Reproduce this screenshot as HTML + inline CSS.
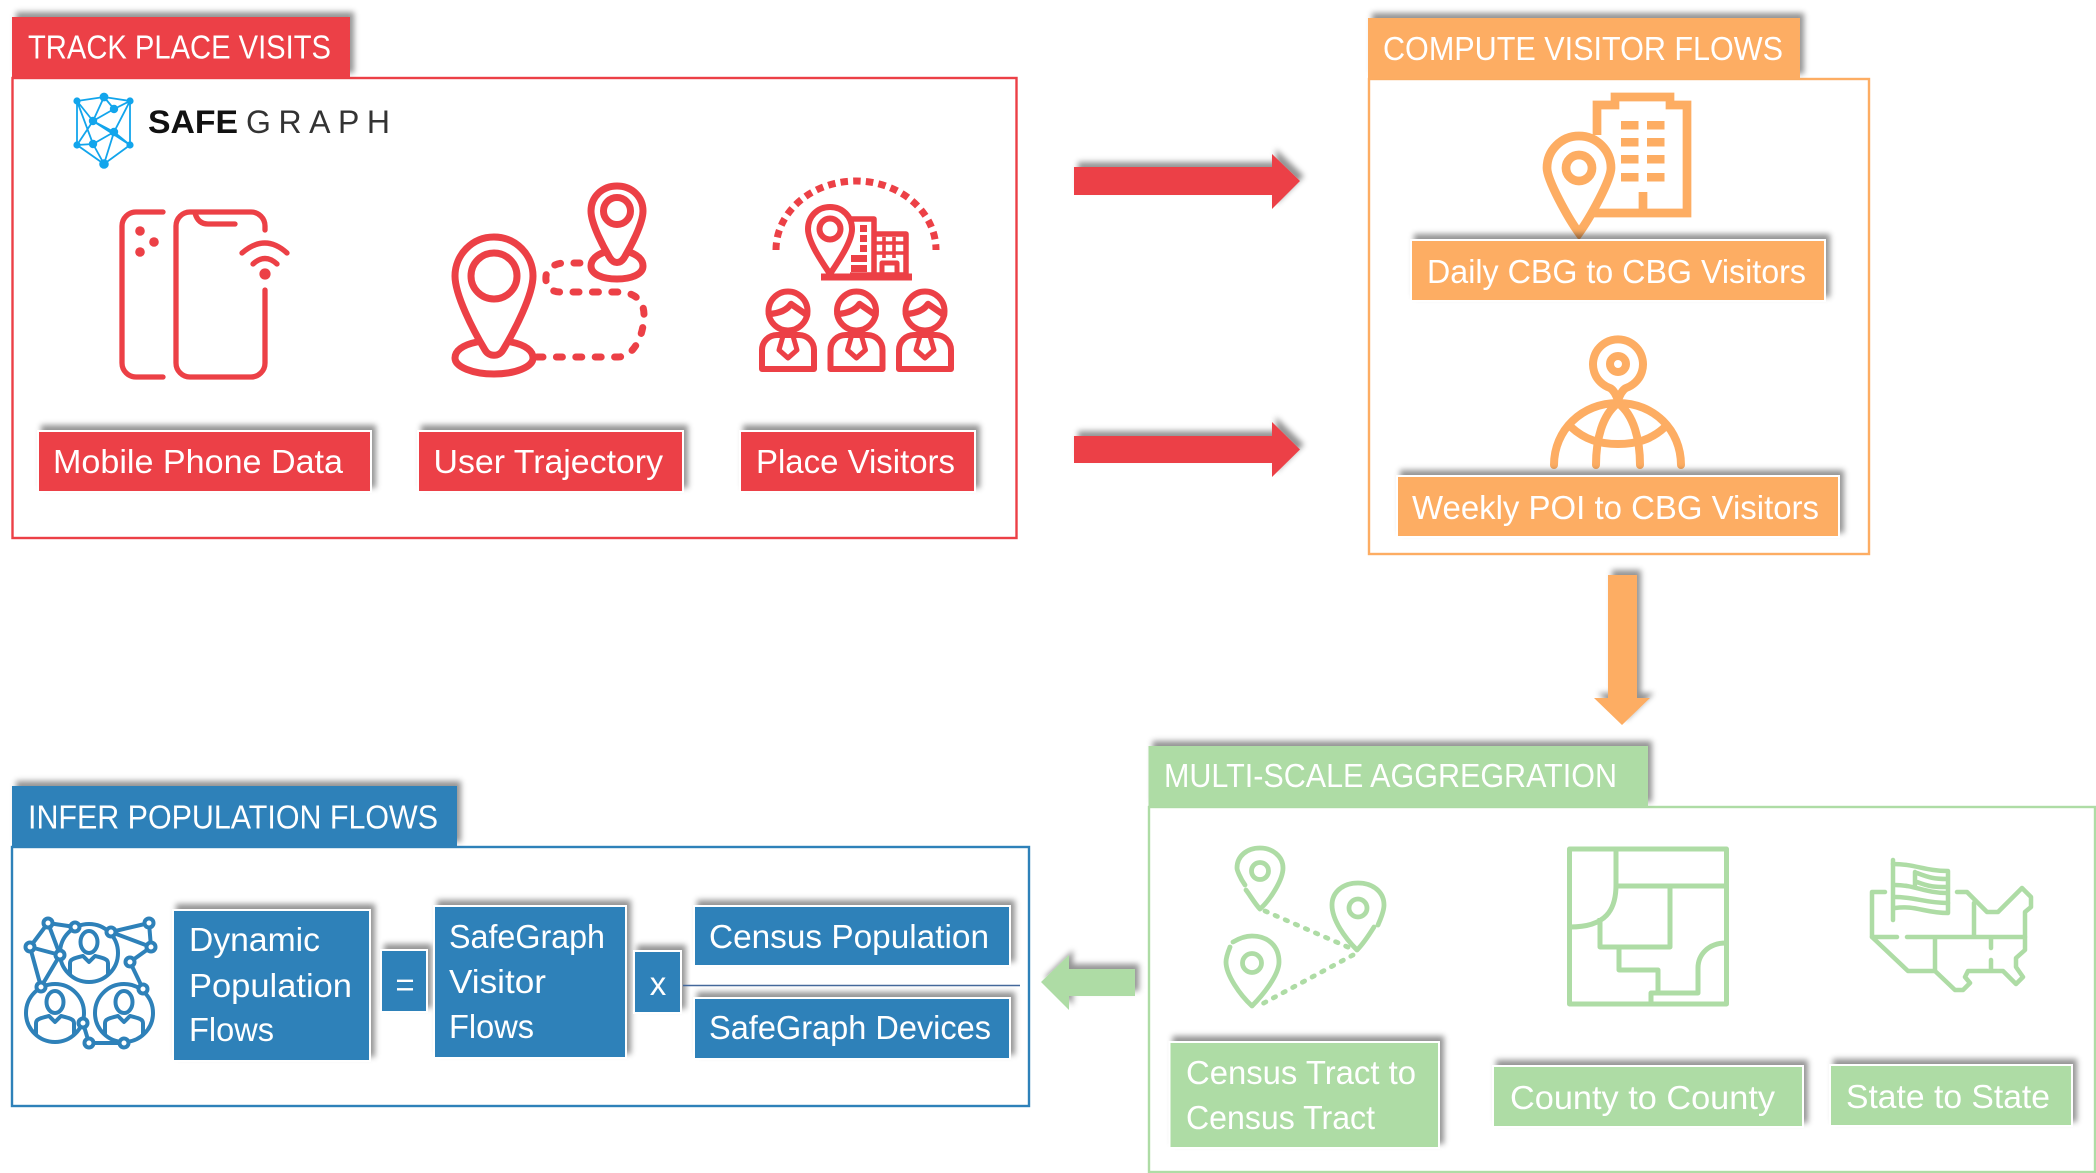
<!DOCTYPE html>
<html><head><meta charset="utf-8"><title>Population flows pipeline</title>
<style>
html,body{margin:0;padding:0;background:#fff;width:2096px;height:1173px;overflow:hidden}
svg{display:block}
text{font-family:"Liberation Sans",sans-serif;fill:#fff;font-size:33px}
.r{fill:#ec4046}.o{fill:#fdad63}.g{fill:#aedca5}.b{fill:#2e81b9}
.lab{stroke:#fff;stroke-width:2;filter:url(#sh)}
.tab{filter:url(#sh)}
.i{fill:none;stroke-linejoin:round;stroke-linecap:round}
</style></head><body>
<svg xmlns="http://www.w3.org/2000/svg" width="2096" height="1173" viewBox="0 0 2096 1173">
<defs>
<filter id="sh" x="-20%" y="-40%" width="140%" height="180%"><feDropShadow dx="4" dy="-5" stdDeviation="2.8" flood-color="#000" flood-opacity=".42"/></filter>
<g id="person" class="i" stroke="#ec4046" stroke-width="6">
<ellipse cx="0" cy="311" rx="19.5" ry="19.5"/>
<path stroke-width="6.500" d="M-19 314Q-3 313 3 304L19 315"/>
<path d="M-26 369V350a15 15 0 0 1 15-15H11a15 15 0 0 1 15 15V369Z"/>
<path stroke-width="5" d="M-5 336L-9 350L0 358L9 350L5 336"/>
</g>
<g id="net" class="i" stroke="#2e81b9" stroke-width="4">
<circle r="29"/>
<ellipse cx="0" cy="-11" rx="8.5" ry="11"/>
<path d="M-19 21V10C-19 6-14 5-6 3L0 9L6 3C14 5 19 6 19 10V21"/>
</g>
</defs>

<!-- TRACK PLACE VISITS -->
<rect x="12.500" y="78" width="1004" height="460" fill="none" stroke="#ec4046" stroke-width="2.4"/>
<rect class="r tab" x="12" y="17" width="338" height="61"/>
<text x="28" y="58.500" textLength="303" lengthAdjust="spacingAndGlyphs">TRACK PLACE VISITS</text>

<!-- logo -->
<g stroke="#12a5ec" stroke-width="1.8" fill="none">
<path d="M77 101L104 97L130 101L130 145L104 164L77 145ZM104 97L114 109L130 101M104 97L93 121M114 109L93 121M130 101L114 132M93 121L114 132M93 121L130 145M77 101L93 121M93 121L77 145M114 132L93 144L77 145M114 132L130 145M93 144L104 164M114 132L104 164M130 145L104 164M77 101L93 144"/>
</g>
<g fill="#12a5ec"><circle cx="77" cy="101" r="3.6"/><circle cx="104" cy="97" r="4.4"/><circle cx="130" cy="101" r="3.6"/><circle cx="114" cy="109" r="4.2"/><circle cx="93" cy="121" r="4.2"/><circle cx="114" cy="132" r="4.2"/><circle cx="130" cy="145" r="3.6"/><circle cx="93" cy="144" r="4.2"/><circle cx="77" cy="145" r="3.6"/><circle cx="104" cy="164" r="4.8"/></g>
<text x="148" y="133" textLength="90" lengthAdjust="spacingAndGlyphs" style="fill:#111;font-weight:700;font-size:32px">SAFE</text>
<text x="246" y="133" textLength="144" lengthAdjust="spacing" style="fill:#333;font-size:32px">GRAPH</text>

<!-- phone icon -->
<g class="i" stroke="#ec4046" stroke-width="5.3">
<path d="M163 212H136a14 14 0 0 0-14 14V363a14 14 0 0 0 14 14H163"/>
<path d="M265 230V226a14 14 0 0 0-14-14H190a14 14 0 0 0-14 14V363a14 14 0 0 0 14 14H251a14 14 0 0 0 14-14V290"/>
<path d="M195 213Q198 224 208 224H235"/>
<path d="M242 253Q265 233 287 253"/>
<path d="M253 264Q265 253 277 264"/>
</g>
<g fill="#ec4046"><circle cx="140" cy="231" r="4.8"/><circle cx="154" cy="242" r="4.8"/><circle cx="140" cy="252" r="4.8"/><circle cx="265" cy="274" r="5.6"/></g>

<!-- trajectory icon -->
<g class="i" stroke="#ec4046" stroke-width="7">
<circle cx="494" cy="276" r="23"/>
<path d="M494 237C516 237 533 255 533 276C533 295 515 330 503 350C499 357 489 357 485 350C473 330 455 295 455 276C455 255 472 237 494 237Z"/>
<path d="M477 342C462 345 455 351 455 358C455 367 473 374 494 374C515 374 533 367 533 358C533 351 526 345 511 342"/>
<circle cx="617" cy="211" r="13.5"/>
<path d="M617 186C632 186 643 197 643 211C643 224 630 248 624 258C620 264 614 264 610 258C604 248 591 224 591 211C591 197 602 186 617 186Z"/>
<path d="M605 252C596 255 591 260 591 266C591 274 602 279 617 279C632 279 643 274 643 266C643 260 638 255 629 252"/>
<path stroke-dasharray="6 13.4" d="M537 357H618C634 357 644 335 644 315C644 300 634 292 618 292H560C550 292 545 285 546 276C547 268 555 263 565 263H590"/>
</g>

<!-- place visitors icon -->
<path d="M776 250A80 69 0 0 1 936 250" fill="none" stroke="#ec4046" stroke-width="7" stroke-dasharray="7.5 5.2"/>
<g fill="none" stroke="#ec4046" stroke-width="5.5" stroke-linejoin="round">
<path d="M848 219H874V275H850"/>
<path d="M874 234H906V275H874"/>
<path d="M882 275V263H897V275" stroke-width="5"/>
<path d="M830 207C843 207 852 217 852 229C852 242 838 262 830 274C822 262 808 242 808 229C808 217 817 207 830 207Z" stroke-width="6"/>
<circle cx="830" cy="229" r="10.5" stroke-width="6"/>
<path d="M821 277H912" stroke-width="7"/>
<path d="M876 243H905M876 253H905M884 237V258M894 237V258" stroke-width="3.6"/>
<path d="M860 225h7v7h-7zM860 235h7v7h-7zM860 245h7v7h-7zM851 255h16v7h-16zM851 265h16v7h-16z" fill="#ec4046" stroke="none"/>
</g>
<use href="#person" x="788"/><use href="#person" x="856.5"/><use href="#person" x="925"/>

<rect class="r lab" x="38" y="431" width="333" height="61"/>
<text x="53" y="473" textLength="290" lengthAdjust="spacingAndGlyphs">Mobile Phone Data</text>
<rect class="r lab" x="418" y="431" width="265" height="61"/>
<text x="433.500" y="473" textLength="229.500" lengthAdjust="spacingAndGlyphs">User Trajectory</text>
<rect class="r lab" x="740" y="431" width="235" height="61"/>
<text x="756" y="473" textLength="199" lengthAdjust="spacingAndGlyphs">Place Visitors</text>

<!-- red arrows -->
<path class="r tab" d="M1074 167H1272V154L1300 181L1272 209V195H1074Z"/>
<path class="r tab" d="M1074 436H1272V422L1300 449.500L1272 477V463H1074Z"/>

<!-- COMPUTE VISITOR FLOWS -->
<rect x="1369" y="79" width="500" height="475" fill="none" stroke="#fdad63" stroke-width="2.4"/>
<rect class="o tab" x="1368" y="18" width="432" height="61"/>
<text x="1383" y="60" textLength="400" lengthAdjust="spacingAndGlyphs">COMPUTE VISITOR FLOWS</text>

<!-- building pin -->
<g fill="none" stroke="#fdad63" stroke-width="8.7" stroke-linejoin="miter">
<path d="M1597 135V105H1615V97H1670V105H1687V213H1594"/>
<path d="M1643 192V213"/>
<path d="M1547 168A32 32 0 0 1 1611 168C1611 180 1590 218 1579 233C1568 218 1547 180 1547 168Z" fill="#fff"/>
<circle cx="1579" cy="168" r="13"/>
</g>
<g fill="#fdad63"><rect x="1621" y="121" width="17.500" height="8.500"/><rect x="1647" y="121" width="17.500" height="8.500"/><rect x="1621" y="138" width="17.500" height="8.500"/><rect x="1647" y="138" width="17.500" height="8.500"/><rect x="1621" y="155" width="17.500" height="8.500"/><rect x="1647" y="155" width="17.500" height="8.500"/><rect x="1621" y="173" width="17.500" height="8.500"/><rect x="1647" y="173" width="17.500" height="8.500"/></g>
<rect class="o lab" x="1411" y="240" width="414" height="61"/>
<text x="1427" y="283" textLength="379" lengthAdjust="spacingAndGlyphs">Daily CBG to CBG Visitors</text>

<!-- globe pin -->
<g class="i" stroke="#fdad63" stroke-width="8">
<path d="M1610 388A25 25 0 1 1 1626 388C1622 390 1620 395 1618 400C1616 395 1614 390 1610 388Z"/>
<circle cx="1618" cy="364" r="8"/>
<path d="M1554 465C1554 430 1582 403 1618 403C1654 403 1681 430 1681 465"/>
<path d="M1596 465C1596 440 1602 415 1618 403C1634 415 1640 440 1640 465"/>
<path d="M1571 427C1585 440 1600 444 1618 444C1636 444 1651 440 1665 427"/>
</g>
<rect class="o lab" x="1397" y="476" width="442" height="61"/>
<text x="1412" y="519" textLength="407" lengthAdjust="spacingAndGlyphs">Weekly POI to CBG Visitors</text>

<!-- orange arrow -->
<path class="o tab" d="M1608 575H1637V698H1650L1622 725L1594 698H1608Z"/>

<!-- MULTI-SCALE -->
<rect x="1149" y="807" width="946" height="365" fill="none" stroke="#aedca5" stroke-width="2.4"/>
<rect class="g tab" x="1148.500" y="746" width="499.500" height="61"/>
<text x="1164" y="787" textLength="453" lengthAdjust="spacingAndGlyphs">MULTI-SCALE AGGREGRATION</text>

<!-- green pins -->
<g class="i" stroke="#aedca5" stroke-width="4.8">
<circle cx="1260" cy="871" r="8.500"/>
<path d="M1245 885C1240 878 1237 870 1237 868C1237 856 1247 848 1260 848C1272 848 1283 856 1283 868C1283 880 1270 900 1260 909C1255 904 1250 895 1246 890"/>
<circle cx="1358" cy="908" r="9"/>
<path d="M1378 925C1380 920 1384 912 1384 905C1384 892 1373 883 1358 883C1343 883 1332 892 1332 905C1332 920 1345 938 1357 950C1363 944 1369 935 1374 927"/>
<circle cx="1252" cy="963" r="9.500"/>
<path d="M1230 947C1228 952 1226 958 1226 962C1226 975 1240 995 1252 1006C1263 995 1279 975 1279 962C1279 946 1268 936 1252 936C1244 936 1238 939 1233 942"/>
<path stroke-dasharray="2.500 8.500" d="M1265 911L1350 948"/>
<path stroke-dasharray="2.500 8.500" d="M1353 955L1262 1004"/>
</g>

<!-- map -->
<g fill="none" stroke="#aedca5" stroke-width="5" stroke-linejoin="round">
<rect x="1569.500" y="849" width="157" height="155"/>
<path d="M1616 849V885C1616 910 1606 927 1570 927"/>
<path d="M1616 886H1727"/>
<path d="M1600 918V947H1670V887"/>
<path d="M1619 947V970H1658V993"/>
<path d="M1651 1004V993H1698V968C1698 955 1708 943 1726 943"/>
</g>

<!-- usa -->
<g class="i" stroke="#aedca5" stroke-width="4.5">
<path d="M1885 892H1872V937L1908 971H1935L1955 990H1963L1970 983L1965 977L1968 971H2003L2016 984L2023 977L2016 967V958L2025 950V912L2031 907V897L2022 888L1998 912H1987L1967 892H1957"/>
<path d="M1872 937H1897M1907 937H2025M1974 903V937M1935 938V971M1991 938V948M1991 960V970"/>
<path d="M1893 860V920"/>
<path d="M1893 864C1915 864 1925 871 1948 871V913C1925 913 1915 905 1895 908"/>
<path d="M1895 885C1915 885 1925 893 1947 893M1895 897C1915 897 1925 903 1948 903M1915 872V885M1917 873C1930 878 1935 879 1947 879M1917 882C1930 887 1935 887 1947 887"/>
</g>

<rect class="g lab" x="1169.500" y="1042" width="269.500" height="106"/>
<text x="1186" y="1084" textLength="230" lengthAdjust="spacingAndGlyphs">Census Tract to</text>
<text x="1186" y="1129" textLength="189" lengthAdjust="spacingAndGlyphs">Census Tract</text>
<rect class="g lab" x="1493" y="1066" width="310" height="61"/>
<text x="1510" y="1109" textLength="265" lengthAdjust="spacingAndGlyphs">County to County</text>
<rect class="g lab" x="1830" y="1065" width="242" height="61"/>
<text x="1846" y="1108" textLength="204" lengthAdjust="spacingAndGlyphs">State to State</text>

<!-- green arrow -->
<path class="g tab" d="M1135 969V996H1069V1010L1041 982L1069 955V969Z"/>

<!-- INFER POPULATION FLOWS -->
<rect x="12" y="847" width="1017" height="259" fill="none" stroke="#2e81b9" stroke-width="2.4"/>
<rect class="b tab" x="12" y="786" width="445" height="61"/>
<text x="28" y="828.500" textLength="410" lengthAdjust="spacingAndGlyphs">INFER POPULATION FLOWS</text>

<!-- network icon -->
<g fill="none" stroke="#2e81b9" stroke-width="4" stroke-linecap="round">
<path d="M48 923L75 927M48 923L30 947M48 923L60 955M30 947L60 955M30 947L41 987M60 955L41 987M111 932L149 923L151 947L111 932M151 947L130 962L143 989M83 1023L89 1043H124"/>
</g>
<use href="#net" x="89" y="953"/><use href="#net" x="55" y="1013"/><use href="#net" x="124" y="1013"/>
<g fill="#fff" stroke="#2e81b9" stroke-width="4">
<circle cx="48" cy="923" r="4.500"/><circle cx="75" cy="927" r="4.500"/><circle cx="111" cy="932" r="4.500"/><circle cx="149" cy="923" r="4.500"/><circle cx="151" cy="947" r="4.500"/><circle cx="130" cy="962" r="4.500"/><circle cx="143" cy="989" r="4.500"/><circle cx="30" cy="947" r="4.500"/><circle cx="60" cy="955" r="4.500"/><circle cx="41" cy="987" r="4.500"/><circle cx="83" cy="1023" r="4.500"/><circle cx="89" cy="1043" r="4.500"/><circle cx="124" cy="1043" r="4.500"/>
</g>

<rect class="b lab" x="173" y="910" width="197" height="151"/>
<text x="189" y="951" textLength="131" lengthAdjust="spacingAndGlyphs">Dynamic</text>
<text x="189" y="997" textLength="163" lengthAdjust="spacingAndGlyphs">Population</text>
<text x="189" y="1041" textLength="85" lengthAdjust="spacingAndGlyphs">Flows</text>

<rect class="b lab" x="381" y="950" width="46" height="62"/>
<text x="405" y="996" text-anchor="middle">=</text>

<rect class="b lab" x="434" y="906" width="192" height="152"/>
<text x="449" y="948" textLength="156" lengthAdjust="spacingAndGlyphs">SafeGraph</text>
<text x="449" y="993" textLength="97" lengthAdjust="spacingAndGlyphs">Visitor</text>
<text x="449" y="1038" textLength="85" lengthAdjust="spacingAndGlyphs">Flows</text>

<rect class="b lab" x="634" y="951" width="47" height="62"/>
<text x="658" y="995" text-anchor="middle">x</text>

<line x1="683" y1="985.500" x2="1020" y2="985.500" stroke="#44689b" stroke-width="1.6"/>

<rect class="b lab" x="694" y="906" width="316" height="60"/>
<text x="709" y="948" textLength="280" lengthAdjust="spacingAndGlyphs">Census Population</text>
<rect class="b lab" x="694" y="998" width="316" height="61"/>
<text x="709" y="1039" textLength="282" lengthAdjust="spacingAndGlyphs">SafeGraph Devices</text>
</svg>
</body></html>
